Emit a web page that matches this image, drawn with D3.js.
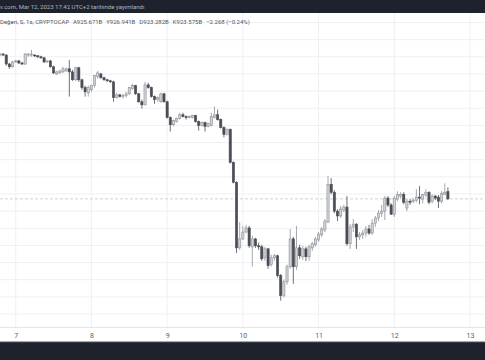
<!DOCTYPE html>
<html><head><meta charset="utf-8">
<script src="https://cdn.jsdelivr.net/npm/d3@7"></script>
<style>html,body{margin:0;padding:0;background:#fff;overflow:hidden}</style>
</head><body>
<svg id="c" width="485" height="360"></svg>
<script>
// first candle: Mar 6, 19:00 (chart time UTC+2), hourly candles
const firstCandle = Date.UTC(2023, 2, 6, 19);
const opens = [
 965.5,965.8,965.5,962.9,962.1,963.5,963.8,963.2,962.9,965.5,
 965.5,965.5,965.3,965.0,964.7,963.5,963.8,962.1,960.0,960.3,
 960.6,960.9,961.5,960.6,958.3,961.8,958.3,956.0,954.5,955.4,
 956.6,959.2,960.0,958.9,958.3,958.0,957.7,953.1,953.9,953.4,
 953.7,954.2,955.7,956.6,954.2,951.9,951.0,956.8,956.0,953.4,
 952.5,951.9,954.2,951.9,947.3,945.2,946.1,947.0,948.1,947.6,
 947.3,947.3,947.9,946.1,945.0,945.8,944.7,945.0,947.3,948.1,
 946.7,944.4,942.4,943.8,934.2,928.4,909.3,911.9,913.9,915.1,
 909.6,911.9,909.9,909.6,906.4,909.0,904.4,906.4,907.0,901.2,
 895.4,899.4,903.8,911.9,903.8,909.3,906.7,909.0,906.7,909.3,
 910.2,911.6,913.1,914.5,916.8,927.8,925.5,920.0,918.6,920.3,
 921.2,910.5,915.4,916.2,912.5,913.1,913.6,914.8,913.6,916.5,
 918.0,919.4,920.0,923.8,921.8,919.1,923.5,924.4,924.9,920.9,
 922.9,922.9,923.2,924.1,923.5,924.7,925.5,922.9,924.4,924.1,
 922.9,924.9,925.671];
const highs = [
 966.1,966.1,965.8,963.2,963.8,964.1,964.1,963.5,966.1,966.1,
 967.0,965.8,965.5,965.3,965.0,964.1,964.1,962.4,960.9,961.2,
 962.1,961.8,964.1,961.2,962.1,962.1,958.6,956.6,956.6,956.8,
 959.7,960.9,960.3,959.2,958.6,958.3,958.0,954.5,954.2,954.2,
 954.8,956.3,957.1,956.8,954.5,952.5,957.7,957.4,956.3,953.7,
 953.4,954.5,954.5,952.2,947.6,946.7,947.3,948.7,948.7,947.9,
 947.9,948.1,948.1,946.4,946.1,946.1,945.8,948.7,950.5,949.6,
 947.0,944.7,944.1,944.1,934.5,928.7,916.8,915.7,916.0,915.7,
 912.8,912.2,910.8,910.2,909.6,909.3,907.3,907.5,907.3,901.7,
 900.0,904.4,914.8,912.5,915.7,910.2,909.9,909.6,910.2,911.0,
 912.5,913.9,915.4,917.7,930.2,929.6,926.1,920.6,921.5,921.8,
 924.4,916.2,917.7,916.5,913.9,914.5,915.7,916.0,917.7,918.6,
 920.3,921.8,924.4,924.4,922.3,924.4,925.8,925.5,925.5,923.5,
 923.5,923.8,926.4,927.3,924.9,926.4,925.8,924.9,924.7,924.7,
 925.8,928.1,926.941];
const lows = [
 965.3,965.3,962.4,961.5,961.8,963.2,962.9,962.6,962.6,965.0,
 965.0,965.0,964.7,964.4,963.2,963.2,961.8,960.0,959.7,960.0,
 960.3,960.6,953.4,958.0,958.0,957.7,955.4,953.4,953.4,954.8,
 956.0,958.6,958.6,958.0,957.7,957.4,951.9,952.8,953.1,952.8,
 953.1,953.9,955.4,953.9,951.6,949.9,950.8,955.7,953.1,951.3,
 951.9,951.6,951.6,947.0,943.2,944.7,945.8,946.7,947.3,946.7,
 947.0,947.0,945.8,943.5,944.7,943.2,944.4,944.7,947.0,946.4,
 944.1,941.5,942.1,933.9,928.1,907.8,908.7,911.6,913.6,909.3,
 903.8,909.3,908.7,905.5,905.5,903.2,903.8,905.5,900.6,893.9,
 894.8,898.6,903.2,898.8,902.9,906.1,905.8,905.5,905.5,908.4,
 909.6,911.0,912.5,913.9,916.5,924.9,919.4,917.1,918.0,919.7,
 909.9,909.0,913.9,909.0,911.6,911.9,912.5,913.1,913.1,915.4,
 917.1,918.3,917.4,921.2,918.9,918.3,922.9,923.8,922.0,920.0,
 921.8,922.3,922.6,922.0,922.3,924.1,922.0,922.3,923.2,920.9,
 922.3,924.7,923.282];
const closes = [
 965.8,965.5,962.9,962.1,963.5,963.8,963.2,962.9,965.8,965.8,
 965.8,965.3,965.0,964.7,963.5,963.8,962.1,960.3,960.6,960.9,
 961.5,961.5,960.6,958.3,961.8,958.3,956.0,954.8,956.0,956.6,
 959.5,960.3,958.9,958.3,958.0,957.7,953.1,953.9,953.4,953.7,
 954.2,956.0,956.6,954.2,951.9,951.0,956.8,956.0,953.4,952.5,
 953.1,954.2,951.9,947.3,945.2,946.4,947.0,948.1,947.6,947.3,
 947.6,947.9,946.1,945.0,945.8,944.7,945.5,947.6,948.1,946.7,
 944.4,942.4,943.8,934.2,928.4,909.3,911.9,913.9,915.1,909.9,
 911.9,909.9,909.6,906.1,909.0,904.1,906.4,907.0,901.2,895.4,
 899.4,903.8,911.9,903.8,909.3,907.0,909.0,906.7,909.6,910.5,
 911.9,913.3,914.8,917.1,927.8,925.5,920.0,918.6,920.6,921.2,
 910.5,915.4,916.2,912.5,913.1,913.6,914.8,913.6,916.5,918.0,
 919.4,920.0,923.8,921.8,919.1,923.8,924.9,924.9,922.6,922.9,
 922.6,923.2,924.1,923.8,924.9,925.5,922.6,924.4,923.8,922.9,
 925.2,925.5,923.575];
const dayTicks = [7, 8, 9, 10, 11, 12, 13];
const publishedText = "v.com, Mar 12, 2023 17:42 UTC+2 tarihinde yayımlandı";
const legendParts = ["Değeri, S, 1s, CRYPTOCAP", "A925.671B", "Y926.941B", "D923.282B", "K923.575B", "−2.268 (−0.24%)"];
const gridStep = 5;
const lastPrice = 923.575;

const W = 485, H = 360;
const plotTop = 13, plotBottom = 327;
const svg = d3.select("#c");
const font = "Roboto, 'Noto Sans', sans-serif";

const x = d3.scaleUtc()
  .domain([new Date(Date.UTC(2023, 2, 7)), new Date(Date.UTC(2023, 2, 13))])
  .range([15.7, 470]);
const y = d3.scaleLinear().domain([886.22, 977.77]).range([plotBottom, plotTop]);

svg.append("rect").attr("width", W).attr("height", H).attr("fill", "#ffffff");

// grid
const dayDates = dayTicks.map(d => new Date(Date.UTC(2023, 2, d)));
const g = svg.append("g");
g.selectAll("line.v").data(dayDates).join("line")
  .attr("x1", d => x(d)).attr("x2", d => x(d))
  .attr("y1", plotTop).attr("y2", plotBottom)
  .attr("stroke", "#eef0f4").attr("stroke-width", 1);
const hVals = d3.range(Math.ceil(y.domain()[0] / gridStep) * gridStep, y.domain()[1], gridStep);
g.selectAll("line.h").data(hVals).join("line")
  .attr("x1", 0).attr("x2", W)
  .attr("y1", d => y(d)).attr("y2", d => y(d))
  .attr("stroke", "#eef0f4").attr("stroke-width", 1);

// last price dashed line
svg.append("line")
  .attr("x1", 0).attr("x2", W)
  .attr("y1", y(lastPrice)).attr("y2", y(lastPrice))
  .attr("stroke", "#c3c5cc").attr("stroke-width", 0.8)
  .attr("stroke-dasharray", "3,2");

// candles
const data = opens.map((o, i) => ({
  t: new Date(firstCandle + i * 3600 * 1000),
  o, h: highs[i], l: lows[i], c: closes[i]
}));
const upFill = "#cfd1d6", upStroke = "#8f929a", downFill = "#4a4d57";
const cg = svg.append("g");
cg.selectAll("line.w").data(data).join("line")
  .attr("x1", d => x(d.t)).attr("x2", d => x(d.t))
  .attr("y1", d => y(d.h)).attr("y2", d => y(d.l))
  .attr("stroke", d => d.c >= d.o ? upStroke : downFill)
  .attr("stroke-width", 0.8);
const bw = 2.2;
cg.selectAll("rect.b").data(data).join("rect")
  .attr("x", d => x(d.t) - bw / 2)
  .attr("width", bw)
  .attr("y", d => y(Math.max(d.o, d.c)))
  .attr("height", d => Math.max(0.8, Math.abs(y(d.o) - y(d.c))))
  .attr("fill", d => d.c >= d.o ? upFill : downFill)
  .attr("stroke", d => d.c >= d.o ? upStroke : downFill)
  .attr("stroke-width", 0.6);

// x axis
svg.append("line").attr("x1", 0).attr("x2", W).attr("y1", plotBottom + 0.5).attr("y2", plotBottom + 0.5)
  .attr("stroke", "#e3e5ea");
const ax = svg.append("g").attr("transform", `translate(0,${plotBottom})`)
  .call(d3.axisBottom(x).tickValues(dayDates).tickFormat(d3.utcFormat("%-d")).tickSize(0).tickPadding(6));
ax.select(".domain").remove();
ax.selectAll("text").attr("fill", "#5d606b").style("font-family", font).style("font-size", "7px");

// top & bottom dark bars
svg.append("rect").attr("x", 0).attr("y", 0).attr("width", W).attr("height", plotTop).attr("fill", "#1e222d");
svg.append("rect").attr("x", 0).attr("y", 342).attr("width", W).attr("height", H - 342).attr("fill", "#1e222d");
svg.append("line").attr("x1", 0).attr("x2", W).attr("y1", 342).attr("y2", 342).attr("stroke", "#50535e");

svg.append("text").attr("x", 0).attr("y", 9.3)
  .attr("fill", "#b2b5be").style("font-family", font).style("font-size", "6px")
  .text(publishedText);

const lg = svg.append("text").attr("x", 0).attr("y", 24)
  .attr("fill", "#50535e").style("font-family", font).style("font-size", "6px");
legendParts.forEach((p, i) => {
  lg.append("tspan").attr("dx", i === 0 ? 0 : 4).text(p);
});
</script>
</body></html>
